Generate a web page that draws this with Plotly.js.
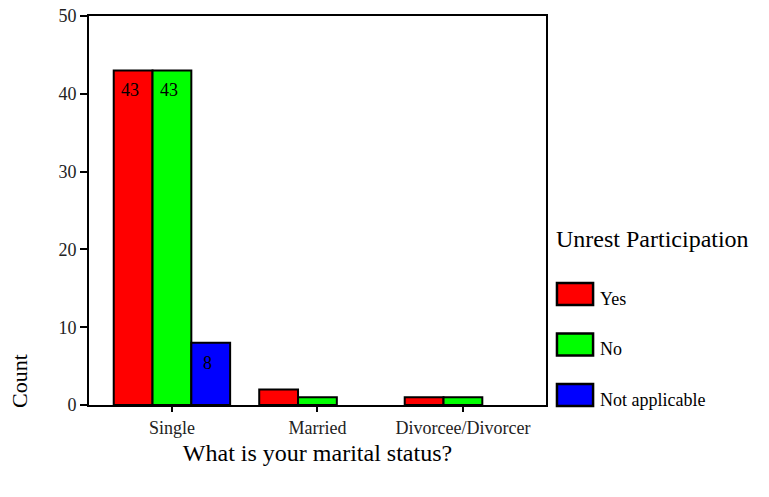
<!DOCTYPE html>
<html>
<head>
<meta charset="utf-8">
<script src="https://cdn.plot.ly/plotly-3.0.1.min.js"></script>
<style>
  html, body { margin: 0; padding: 0; background: #fff; }
  #chart { width: 769px; height: 497px; }
</style>
</head>
<body>
<div id="chart"></div>
<script>
// Marital status vs. unrest participation (counts)
const categories = ['Single', 'Married', 'Divorcee/Divorcer'];
const seriesNames = ['Yes', 'No', 'Not applicable'];
const seriesColors = ['#ff0000', '#00ff00', '#0000ff'];
const yesCounts = [43, 2, 1];
const noCounts = [43, 1, 1];
const naCounts = [8, null, null];
// value labels shown only where the bar is tall enough
const yesLabels = ['43', '', ''];
const noLabels = ['43', '', ''];
const naLabels = ['8', '', ''];
const yTicks = [0, 10, 20, 30, 40, 50];

const serif = 'Liberation Serif, Times New Roman, serif';
const seriesValues = [yesCounts, noCounts, naCounts];
const seriesLabels = [yesLabels, noLabels, naLabels];

const traces = seriesNames.map((name, i) => ({
  type: 'bar',
  name: name,
  x: categories,
  y: seriesValues[i],
  marker: { color: seriesColors[i], line: { color: '#000', width: 2 } },
  hoverinfo: 'skip',
  showlegend: false
}));

const shapes = [];
const annotations = [];

// value labels just inside the top of each labelled bar
const barPx = 38.8;
seriesLabels.forEach((labels, i) => {
  labels.forEach((lab, j) => {
    if (!lab) return;
    annotations.push({
      x: categories[j], y: seriesValues[i][j], xref: 'x', yref: 'y',
      xshift: (i - 1) * barPx - 3, yshift: -8, yanchor: 'top', xanchor: 'center',
      showarrow: false, text: lab,
      font: { family: serif, size: 18, color: '#000' }
    });
  });
});

// legend drawn as large swatches with labels, to the right of the plot
const legX0 = 1.024, legX1 = 1.103;
const legTop = 0.3136, legStep = 0.1298, legH = 0.0566;
seriesNames.forEach((name, i) => {
  const yTop = legTop - i * legStep;
  shapes.push({
    type: 'rect', xref: 'paper', yref: 'paper',
    x0: legX0, x1: legX1, y0: yTop - legH, y1: yTop,
    fillcolor: seriesColors[i], line: { color: '#000', width: 2.5 }
  });
  annotations.push({
    xref: 'paper', yref: 'paper', x: 1.114, y: yTop - legH * 0.72,
    xanchor: 'left', yanchor: 'middle', showarrow: false,
    text: name, font: { family: serif, size: 18, color: '#000' }
  });
});
annotations.push({
  xref: 'paper', yref: 'paper', x: 1.0175, y: 0.4267,
  xanchor: 'left', yanchor: 'middle', showarrow: false,
  text: 'Unrest Participation', font: { family: serif, size: 24, color: '#000' }
});
// y-axis title sits low, next to the zero line
annotations.push({
  xref: 'paper', yref: 'paper', x: -0.151, y: 0.062,
  xanchor: 'center', yanchor: 'middle', showarrow: false, textangle: -90,
  text: 'Count', font: { family: serif, size: 22, color: '#000' }
});

const layout = {
  width: 769, height: 497,
  margin: { l: 89, r: 223, t: 16, b: 92, pad: 0 },
  paper_bgcolor: '#fff', plot_bgcolor: '#fff',
  barmode: 'group', bargap: 0.2, bargroupgap: 0,
  font: { family: serif, color: '#000' },
  xaxis: {
    type: 'category', range: [-0.57, 2.571],
    showline: true, mirror: true, linecolor: '#000', linewidth: 2,
    ticks: 'outside', ticklen: 5, tickwidth: 2, tickcolor: '#000',
    showgrid: false, zeroline: false,
    tickfont: { family: serif, size: 18, color: '#222' },
    title: { text: 'What is your marital status?', standoff: 8,
             font: { family: serif, size: 24, color: '#000' } }
  },
  yaxis: {
    range: [0, 50], tickvals: yTicks,
    showline: true, mirror: true, linecolor: '#000', linewidth: 2,
    ticks: 'outside', ticklen: 7, tickwidth: 2, tickcolor: '#000',
    showgrid: false, zeroline: false,
    tickfont: { family: serif, size: 18, color: '#222' }
  },
  shapes: shapes,
  annotations: annotations
};

Plotly.newPlot('chart', traces, layout, { displayModeBar: false, staticPlot: true });
</script>
</body>
</html>
